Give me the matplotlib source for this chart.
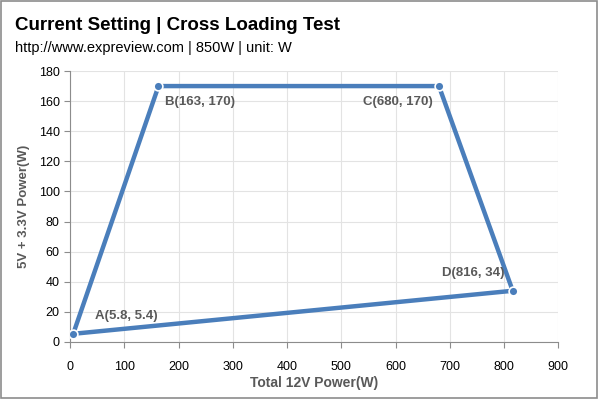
import matplotlib
matplotlib.use("Agg")
import matplotlib.pyplot as plt
from matplotlib.patches import Rectangle

plt.rcParams["font.family"] = ["Liberation Sans", "DejaVu Sans"]

x_vals = [163, 5.8, 816, 680, 163]
y_vals = [170, 5.4, 34, 170, 170]
point_labels = ["A(5.8, 5.4)", "B(163, 170)", "C(680, 170)", "D(816, 34)"]
point_x = [5.8, 163, 680, 816]
point_y = [5.4, 170, 170, 34]
x_ticks = list(range(0, 901, 100))
y_ticks = list(range(0, 181, 20))

fig = plt.figure(figsize=(5.99, 3.99), dpi=100)
fig.patches.append(Rectangle((0.002, 0.003), 0.995, 0.994, transform=fig.transFigure,
                             fill=False, edgecolor="#8c8c8c", linewidth=1.2))
ax = fig.add_axes([0.117, 0.143, 0.815, 0.679])

line_color = "#4a7ebb"
ax.plot(x_vals, y_vals, color=line_color, linewidth=3.2, solid_joinstyle="round", zorder=3)
ax.scatter(point_x, point_y, s=40, color=line_color, edgecolors="white", linewidths=1.2, zorder=4)

txt_color = "#595959"
offsets = [(16, 13), (5, -11.5), (-55, -11.5), (-51, 13)]
for lab, px, py, (dx, dy) in zip(point_labels, point_x, point_y, offsets):
    ax.annotate(lab, (px, py), xytext=(dx, dy), textcoords="offset points",
                fontsize=9.5, fontweight="bold", color=txt_color, va="center", ha="left")

ax.set_xlim(0, 900)
ax.set_ylim(0, 180)
ax.set_xticks(x_ticks)
ax.set_yticks(y_ticks)
ax.grid(True, color="#e3e3e3", linewidth=0.8)
ax.set_axisbelow(True)
for s in ["top", "right"]:
    ax.spines[s].set_visible(False)
for s in ["left", "bottom"]:
    ax.spines[s].set_color("#8c8c8c")
ax.tick_params(colors="#8c8c8c", labelcolor="black", labelsize=9, length=4, direction="out")
ax.tick_params(axis="x", pad=10)
ax.set_xlabel("Total 12V Power(W)", fontsize=10, fontweight="bold", color=txt_color, labelpad=2)
ax.set_ylabel("5V + 3.3V Power(W)", fontsize=9.5, fontweight="bold", color=txt_color, labelpad=6)

fig.text(0.025, 0.935, "Current Setting | Cross Loading Test", fontsize=13.5, fontweight="bold",
         color="black", va="center")
fig.text(0.025, 0.88, "http://www.expreview.com | 850W | unit: W", fontsize=10.5, color="black", va="center")

fig.savefig("out.png", dpi=100)
